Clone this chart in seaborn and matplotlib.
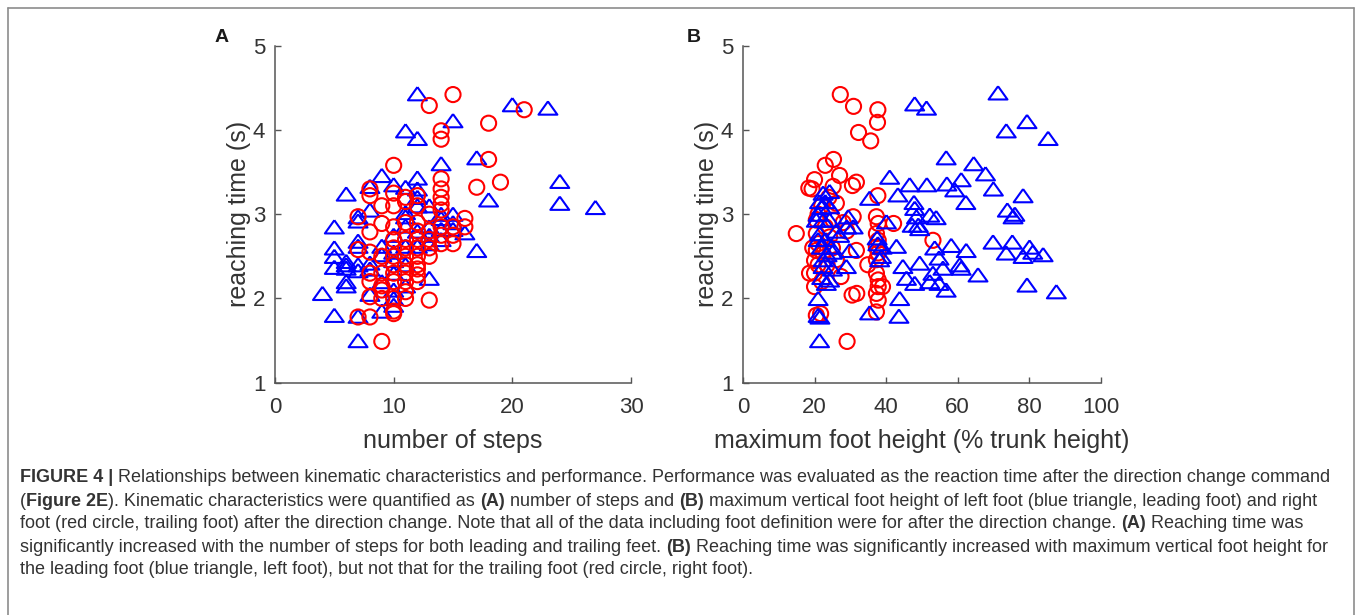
import matplotlib
matplotlib.use("Agg")
import matplotlib.pyplot as plt
import seaborn as sns
import pandas as pd
from matplotlib.lines import Line2D

# ---------------- data ----------------
# Panel A: number of steps vs reaching time
a_lead_steps = [12, 20, 23, 15, 11, 12, 14, 17, 24, 24, 27, 18, 17, 9, 6, 8, 10, 11, 12, 12,
                7, 7, 5, 5, 5, 5, 6, 6, 7, 7, 7, 7, 8, 4, 5, 6, 6, 7, 7, 8,
                8, 9, 10, 10, 10, 11, 11, 11, 12, 13, 13, 14, 14, 15, 15, 16, 13, 9, 9, 10,
                11, 12, 15, 14, 10, 10, 12, 13, 14, 6, 8, 10, 11, 12, 9, 11, 13]
a_lead_time = [4.43, 4.30, 4.26, 4.11, 3.99, 3.90, 3.60, 3.67, 3.39, 3.13, 3.08, 3.17, 2.57, 3.46, 3.24, 3.33, 3.35, 3.32, 3.43, 3.30,
               2.97, 2.92, 2.85, 2.60, 2.50, 2.37, 2.44, 2.36, 2.40, 2.33, 2.62, 2.68, 2.42, 2.06, 1.80, 2.20, 2.15, 1.79, 1.50, 3.05,
               2.05, 1.85, 1.92, 2.10, 2.00, 3.02, 2.97, 2.86, 2.80, 2.75, 3.10, 2.82, 2.70, 3.00, 2.82, 2.78, 2.24, 2.62, 2.52, 2.30,
               2.62, 2.62, 2.90, 2.95, 2.55, 2.45, 3.10, 2.85, 3.00, 2.40, 2.35, 2.75, 2.40, 3.20, 2.20, 2.15, 2.65]

a_trail_steps = [15, 13, 21, 18, 14, 14, 10, 18, 17, 19, 14, 14, 14, 14, 14, 8, 8, 7, 9, 8,
                 7, 8, 8, 8, 8, 7, 8, 9, 10, 10, 13, 11, 11, 12, 12, 12, 10, 9, 9, 9,
                 10, 10, 10, 10, 10, 11, 11, 11, 11, 11, 11, 12, 12, 12, 12, 12, 13, 13, 13, 13,
                 12, 11, 10, 9, 10, 11, 12, 15, 15, 16, 16, 14, 14, 14, 15, 9, 10, 11, 13, 12,
                 10, 9]
a_trail_time = [4.42, 4.29, 4.24, 4.08, 3.99, 3.89, 3.58, 3.65, 3.32, 3.38, 3.42, 3.30, 3.20, 3.12, 3.05, 3.30, 3.22, 2.97, 2.89, 2.79,
                2.58, 2.55, 2.30, 2.20, 2.02, 1.78, 1.78, 1.49, 1.85, 1.82, 1.98, 2.00, 2.08, 2.20, 2.28, 2.35, 2.20, 2.10, 2.00, 2.50,
                2.50, 2.60, 2.70, 2.40, 2.30, 2.50, 2.60, 2.70, 2.40, 2.30, 2.20, 2.50, 2.60, 2.70, 2.80, 2.90, 2.50, 2.70, 2.80, 3.00,
                3.10, 3.15, 3.10, 3.10, 3.25, 3.20, 3.22, 2.75, 2.65, 2.95, 2.85, 2.75, 2.65, 2.85, 2.85, 2.15, 2.00, 2.90, 2.60, 2.40,
                2.85, 2.30]

# Panel B: maximum foot height (% trunk height) vs reaching time
b_lead_height = [71.3, 48.0, 51.3, 79.4, 73.6, 85.3, 56.8, 64.5, 67.8, 41.0, 46.6, 51.4, 57.0, 61.0, 59.2, 70.0, 78.3, 43.3, 62.3, 35.4,
                 73.9, 75.5, 76.0, 47.8, 48.0, 48.5, 52.2, 54.0, 40.1, 47.3, 49.0, 49.4, 69.9, 75.3, 73.6, 78.3, 80.1, 81.0, 83.9, 58.2,
                 62.4, 53.6, 54.8, 42.9, 38.9, 38.7, 44.7, 49.4, 55.9, 60.6, 61.0, 65.7, 45.7, 48.0, 52.2, 54.8, 56.8, 53.1, 79.4, 87.6,
                 43.8, 43.6, 35.4, 21.4, 21.0, 21.5, 21.0, 22.4, 21.4, 24.2, 22.0, 29.4, 30.8, 29.0, 29.8, 28.9, 24.2, 23.3, 22.4, 21.9,
                 21.4, 22.4, 20.5, 24.7, 24.2, 24.2, 22.4, 21.0, 23.0, 23.5, 25.0, 26.0, 27.0, 21.0, 23.0, 37.7, 38.2, 37.5, 25.0, 22.0]
b_lead_time = [4.44, 4.31, 4.26, 4.10, 3.99, 3.90, 3.67, 3.60, 3.48, 3.44, 3.35, 3.35, 3.36, 3.41, 3.29, 3.30, 3.22, 3.23, 3.14, 3.19,
               3.05, 2.97, 3.00, 3.14, 3.07, 2.97, 2.99, 2.96, 2.91, 2.87, 2.87, 2.83, 2.67, 2.67, 2.54, 2.50, 2.61, 2.55, 2.52, 2.63,
               2.57, 2.60, 2.48, 2.62, 2.61, 2.50, 2.38, 2.42, 2.36, 2.40, 2.36, 2.28, 2.24, 2.18, 2.20, 2.18, 2.10, 2.30, 2.16, 2.08,
               2.00, 1.79, 1.83, 1.50, 1.80, 1.78, 2.00, 3.25, 3.15, 3.27, 3.08, 2.97, 2.85, 2.85, 2.57, 2.38, 2.22, 2.18, 2.46, 2.61,
               2.77, 2.93, 2.93, 2.61, 2.93, 3.09, 2.38, 2.70, 2.70, 2.52, 2.55, 2.80, 2.75, 3.00, 3.15, 2.65, 2.46, 2.72, 2.35, 2.25]

b_trail_height = [27.2, 30.9, 37.7, 37.6, 32.3, 35.7, 25.3, 23.0, 27.0, 20.0, 18.4, 19.3, 31.7, 30.6, 25.2, 37.7, 14.9, 30.8, 31.7, 34.9,
                  30.5, 31.8, 29.1, 42.1, 53.1, 20.5, 21.7, 20.0, 18.6, 20.5, 20.5, 20.5, 21.0, 20.0, 22.4, 24.2, 25.2, 26.1, 27.4, 26.1,
                  23.5, 37.3, 37.8, 37.3, 37.8, 37.3, 37.8, 37.3, 37.3, 37.8, 37.8, 39.0, 37.3, 37.8, 37.3, 22.0, 24.0, 21.0, 23.0, 20.0,
                  22.0, 25.0, 28.0, 19.5, 21.0, 29.0]
b_trail_time = [4.42, 4.28, 4.24, 4.09, 3.97, 3.87, 3.65, 3.58, 3.46, 3.41, 3.31, 3.30, 3.38, 3.34, 3.33, 3.22, 2.77, 2.97, 2.57, 2.40,
                2.04, 2.06, 1.49, 2.89, 2.69, 1.80, 1.82, 2.30, 2.30, 2.57, 2.77, 2.93, 3.00, 2.14, 2.53, 2.73, 2.93, 3.13, 2.26, 2.46,
                2.40, 2.97, 2.89, 2.77, 2.69, 2.61, 2.54, 2.46, 2.30, 2.22, 2.14, 2.14, 2.06, 1.98, 1.84, 3.10, 3.20, 2.65, 2.85, 2.45,
                2.20, 2.60, 2.90, 2.60, 2.40, 2.80]

panel_letters = ["A", "B"]
x_labels = ["number of steps", "maximum foot height (% trunk height)"]
y_label = "reaching time (s)"
x_ticks_a = [0, 10, 20, 30]
x_ticks_b = [0, 20, 40, 60, 80, 100]
y_ticks = [1, 2, 3, 4, 5]

caption_lines = [
    [("FIGURE 4 |", True, False), ("Relationships between kinematic characteristics and performance. Performance was evaluated as the reaction time after the direction change command", False, True)],
    [("(", False, False), ("Figure 2E", True, False), ("). Kinematic characteristics were quantified as", False, False), ("(A)", True, True),
     ("number of steps and", False, True), ("(B)", True, True),
     ("maximum vertical foot height of left foot (blue triangle, leading foot) and right", False, True)],
    [("foot (red circle, trailing foot) after the direction change. Note that all of the data including foot definition were for after the direction change.", False, False),
     ("(A)", True, True), ("Reaching time was", False, True)],
    [("significantly increased with the number of steps for both leading and trailing feet.", False, False), ("(B)", True, True),
     ("Reaching time was significantly increased with maximum vertical foot height for", False, True)],
    [("the leading foot (blue triangle, left foot), but not that for the trailing foot (red circle, right foot).", False, False)],
]

# ---------------- style ----------------
sns.set_style("white")
plt.rcParams["font.family"] = ["Liberation Sans", "DejaVu Sans"]

W, H = 1358, 615
fig = plt.figure(figsize=(W / 100, H / 100), dpi=100)

BLUE = "#0000ff"
RED = "#ff0000"
AX_COL = "#555555"
TXT_COL = "#333333"
TRI = [(0, 0.7), (-1, -0.7), (1, -0.7), (0, 0.7)]   # wide MATLAB-like triangle
S_TRI = 185
S_CIR = 118
LW = 1.5

def px_axes(l, r, t, b):
    return fig.add_axes([l / W, 1 - b / H, (r - l) / W, (b - t) / H])

axA = px_axes(275, 631, 45.7, 382.7)
axB = px_axes(743, 1100.7, 45.7, 382.7)

dfA_lead = pd.DataFrame({"x": a_lead_steps, "y": a_lead_time})
dfA_trail = pd.DataFrame({"x": a_trail_steps, "y": a_trail_time})
dfB_lead = pd.DataFrame({"x": b_lead_height, "y": b_lead_time})
dfB_trail = pd.DataFrame({"x": b_trail_height, "y": b_trail_time})

sns.scatterplot(data=dfA_lead, x="x", y="y", marker=TRI, s=S_TRI, facecolors="none",
                edgecolor=BLUE, linewidth=LW, ax=axA)
sns.scatterplot(data=dfA_trail, x="x", y="y", marker="o", s=S_CIR, facecolors="none",
                edgecolor=RED, linewidth=LW, ax=axA)
sns.scatterplot(data=dfB_trail, x="x", y="y", marker="o", s=S_CIR, facecolors="none",
                edgecolor=RED, linewidth=LW, ax=axB)
sns.scatterplot(data=dfB_lead, x="x", y="y", marker=TRI, s=S_TRI, facecolors="none",
                edgecolor=BLUE, linewidth=LW, ax=axB)

for ax, xt, xl in [(axA, x_ticks_a, x_labels[0]), (axB, x_ticks_b, x_labels[1])]:
    ax.set_xlim(xt[0], xt[-1])
    ax.set_ylim(y_ticks[0], y_ticks[-1])
    ax.set_xticks(xt)
    ax.set_yticks(y_ticks)
    ax.set_xlabel(xl, fontsize=18, color=TXT_COL, labelpad=8)
    ax.set_ylabel(y_label, fontsize=18, color=TXT_COL, labelpad=1)
    ax.spines["top"].set_visible(False)
    ax.spines["right"].set_visible(False)
    for s in ("left", "bottom"):
        ax.spines[s].set_color(AX_COL)
        ax.spines[s].set_linewidth(1.1)
    ax.tick_params(direction="in", length=4, width=1, color=AX_COL,
                   labelsize=16, labelcolor=TXT_COL, left=True, bottom=True)
    ax.tick_params(axis="x", pad=10)
    ax.tick_params(axis="y", pad=7)
    ax.set_facecolor("none")

fig.text(222 / W, 1 - 37 / H, panel_letters[0], fontsize=14, fontweight="bold",
         color="#1a1a1a", ha="center", va="center")
fig.text(694 / W, 1 - 37 / H, panel_letters[1], fontsize=14, fontweight="bold",
         color="#1a1a1a", ha="center", va="center")

# ---------------- border ----------------
BORDER = "#8c8c8c"
fig.add_artist(Line2D([8 / W, 8 / W], [0, 1 - 8 / H], color=BORDER, lw=1.2))
fig.add_artist(Line2D([8 / W, 1354 / W], [1 - 8 / H, 1 - 8 / H], color=BORDER, lw=1.2))
fig.add_artist(Line2D([1354 / W, 1354 / W], [0, 1 - 8 / H], color=BORDER, lw=1.2))

# ---------------- caption ----------------
renderer = fig.canvas.get_renderer()
CAP_FAM = ["Liberation Sans Narrow", "Liberation Sans", "DejaVu Sans"]
CAP_COL = "#333333"

def measure(txt, size, bold):
    t = fig.text(0, 0, txt, fontsize=size, fontweight="bold" if bold else "normal", family=CAP_FAM)
    w = t.get_window_extent(renderer).width
    t.remove()
    return w

def line_width(runs, size):
    sp = measure("x x", size, False) - measure("xx", size, False)
    w = 0
    for txt, bold, space_before in runs:
        if space_before:
            w += sp
        w += measure(txt, size, bold)
    return w

base = 10.0
target = 1322.0
cap_size = min(13.0, base * target / line_width(caption_lines[0], base))
space_w = measure("x x", cap_size, False) - measure("xx", cap_size, False)

line_y = [478, 501, 524, 547, 570]
for runs, yc in zip(caption_lines, line_y):
    x = 20.0
    for txt, bold, space_before in runs:
        if space_before:
            x += space_w
        t = fig.text(x / W, 1 - yc / H, txt, fontsize=cap_size,
                     fontweight="bold" if bold else "normal", family=CAP_FAM,
                     color=CAP_COL, ha="left", va="center")
        x += t.get_window_extent(renderer).width

fig.savefig("out.png", dpi=100)
